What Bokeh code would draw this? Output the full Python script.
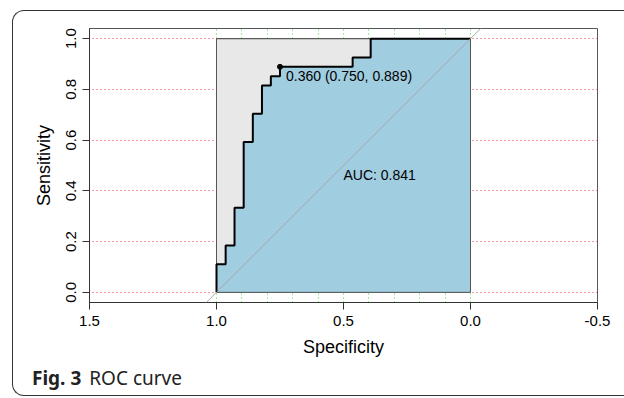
from bokeh.plotting import figure
from bokeh.models import (Range1d, FixedTicker, PrintfTickFormatter, Slope, Div,
                          InlineStyleSheet)
from bokeh.layouts import column
from bokeh.core.properties import value
from bokeh.embed import file_html
from bokeh.resources import INLINE

# ROC curve corner points (specificity, sensitivity)
specificity = [1.000, 1.000, 0.964, 0.964, 0.929, 0.929, 0.893, 0.893, 0.857, 0.857,
               0.821, 0.821, 0.786, 0.786, 0.750, 0.750, 0.464, 0.464, 0.393, 0.393, 0.000]
sensitivity = [0.000, 0.111, 0.111, 0.185, 0.185, 0.333, 0.333, 0.593, 0.593, 0.704,
               0.704, 0.815, 0.815, 0.852, 0.852, 0.889, 0.889, 0.926, 0.926, 1.000, 1.000]
best_threshold = 0.360
best_spec = 0.750
best_sens = 0.889
auc_value = 0.841
x_ticks = [1.5, 1.0, 0.5, 0.0, -0.5]
y_ticks = [0.0, 0.2, 0.4, 0.6, 0.8, 1.0]
v_grid = [0.0, 0.1, 0.2, 0.3, 0.4, 0.5, 0.6, 0.7, 0.8, 0.9, 1.0]
caption_bold = "Fig. 3"
caption_text = "ROC curve"

FONT = "Liberation Sans"

p = figure(width=624, height=360, output_backend="svg", toolbar_location=None,
           x_range=Range1d(1.5, -0.5), y_range=Range1d(-0.04, 1.04),
           min_border_left=89, min_border_right=27, min_border_top=28, min_border_bottom=58)
p.background_fill_color = "white"
p.border_fill_color = None
p.outline_line_color = "#555555"
p.outline_line_width = 1

# axes
for ax in (p.xaxis[0], p.yaxis[0]):
    ax.axis_line_color = "#333333"
    ax.major_tick_line_color = "#333333"
    ax.minor_tick_line_color = None
    ax.major_tick_out = 7
    ax.major_tick_in = 0
    ax.major_label_text_font = FONT
    ax.major_label_text_font_size = "15px"
    ax.major_label_text_color = "black"
    ax.axis_label_text_font = FONT
    ax.axis_label_text_font_size = "18px"
    ax.axis_label_text_font_style = "normal"
    ax.axis_label_text_color = "black"
    ax.formatter = PrintfTickFormatter(format="%.1f")
p.xaxis.ticker = FixedTicker(ticks=x_ticks)
p.yaxis.ticker = FixedTicker(ticks=y_ticks)
p.xaxis.axis_label = "Specificity"
p.yaxis.axis_label = "Sensitivity"
p.yaxis.major_label_orientation = "vertical"
p.xaxis.major_label_standoff = 6
p.yaxis.major_label_standoff = 6
p.xaxis.axis_label_standoff = 8
p.yaxis.axis_label_standoff = 10

# grid
p.xgrid.ticker = FixedTicker(ticks=v_grid)
p.xgrid.grid_line_color = "#33DD33"
p.xgrid.grid_line_dash = "1 3"
p.xgrid.grid_line_width = 1
p.ygrid.ticker = FixedTicker(ticks=y_ticks)
p.ygrid.grid_line_color = "#EE3344"
p.ygrid.grid_line_dash = "1 3"
p.ygrid.grid_line_width = 1

# max AUC polygon (unit square)
p.patch(x=[1.0, 1.0, 0.0, 0.0], y=[0.0, 1.0, 1.0, 0.0],
        fill_color="#E8E8E8", line_color="#6E6E6E", line_width=1)
# AUC polygon
p.patch(x=specificity + [0.0], y=sensitivity + [0.0],
        fill_color="#A0CDE0", line_color=None)
# square border over blue
p.line(x=[1.0, 1.0, 0.0, 0.0, 1.0], y=[0.0, 1.0, 1.0, 0.0, 0.0],
       line_color="#555555", line_width=1)

# identity line
p.add_layout(Slope(gradient=-1, y_intercept=1, line_color="#A8A8A8", line_width=1))

# ROC curve
p.line(x=specificity, y=sensitivity, line_color="black", line_width=2)

# best threshold
p.scatter(x=[best_spec], y=[best_sens], size=5, fill_color="black", line_color="black")
p.text(x=[best_spec], y=[best_sens],
       text=[f"{best_threshold:.3f} ({best_spec:.3f}, {best_sens:.3f})"],
       text_font=value(FONT), text_font_size="14px", text_color="black",
       text_align="left", text_baseline="middle", x_offset=6, y_offset=9)

# AUC text
p.text(x=[0.5], y=[0.5], text=[f"AUC: {auc_value:.3f}"],
       text_font=value(FONT), text_font_size="14px", text_color="black",
       text_align="left", text_baseline="top", y_offset=1)

caption = Div(text=f"<b>{caption_bold}</b><span style='margin-left:8px'>{caption_text}</span>",
              width=624, height=38,
              styles={"font-family": "'Noto Sans', sans-serif", "font-size": "19px",
                      "line-height": "19px", "color": "#222222",
                      "padding-left": "27px", "padding-top": "4px"})

border_css = InlineStyleSheet(css="""
:host { position: relative; }
:host::after {
  content: "";
  position: absolute;
  left: 12px; top: 10px;
  width: 620px; height: 386px;
  border: 1.2px solid #333333;
  border-right: none;
  border-radius: 12px 0 0 12px;
  box-sizing: border-box;
  pointer-events: none;
}
""")

layout = column(p, caption, width=624, height=398, stylesheets=[border_css])

open("out.html", "w").write(file_html(layout, INLINE))
